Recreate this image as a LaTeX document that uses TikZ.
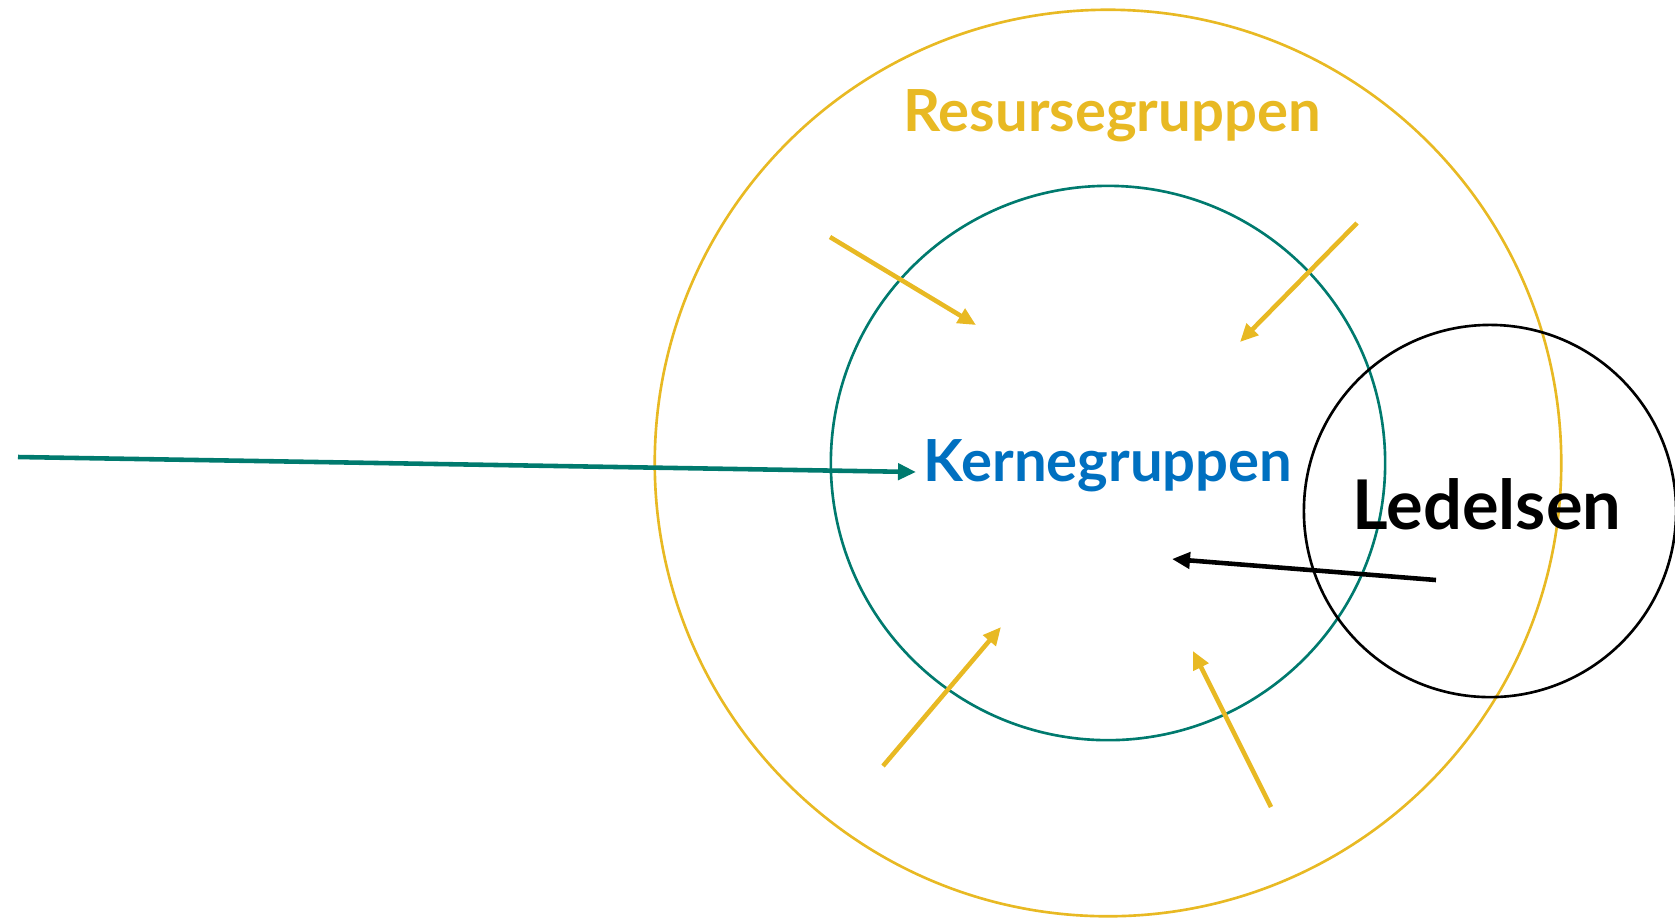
\documentclass[tikz,border=0pt]{standalone}
\usepackage{fontspec}
\setmainfont{Lato}
\usepackage{tikz}
\usetikzlibrary{arrows.meta, positioning}
\usepackage{xcolor}
\definecolor{resursgul}{RGB}{232,185,35}
\definecolor{kjernegronn}{RGB}{0,122,110}
\definecolor{kjerneblaa}{RGB}{0,112,192}
\tikzset{%
	every ring/.style={
		circle,
		draw,
		line width=0.75pt,
		inner sep=0pt
	},
	ring resurs/.style={draw=resursgul, minimum size=9.06cm},
	ring kjerne/.style={draw=kjernegronn, minimum size=5.54cm},
	ring ledelse/.style={draw=black, minimum size=3.72cm},
	gruppe/.style={
		font=\bfseries\fontsize{16.5}{18}\selectfont,
		anchor=base,
		inner sep=0pt
	},
	pil/.style={
		line width=1.3pt,
		-{Triangle[length=0.18cm, width=0.16cm]}
	},
}

\begin{document}
\begin{tikzpicture}[x=0.01cm, y=-0.01cm]
			\useasboundingbox (0,0) rectangle (1675,917);
			
			\foreach \m/\p in {resurs/{1108,463}, kjerne/{1108,463}, ledelse/{1490,511}}
			\node [every ring/.try, ring \m/.try] (ring-\m) at (\p) {};
			
			\node [gruppe, text=resursgul] (resurs) at (1112,131) {Resursegruppen};
			\node [gruppe, text=kjerneblaa] (kjerne) at (1108,481) {Kernegruppen};
			\node [gruppe, font=\bfseries\fontsize{19.5}{22}\selectfont] (ledelse) at (1487,529) {Ledelsen};
			
			\coordinate (inn-fra) at (18,457);
			\coordinate (inn-til) at (916,472);
			\draw [pil, kjernegronn] (inn-fra) -- (inn-til);
			
			\coordinate (led-fra) at (1436,580);
			\coordinate (led-til) at (1172,559);
			\draw [pil, black] (led-fra) -- (led-til);
			
			\foreach \xa/\ya/\xb/\yb [count=\i] in {830/237/976/325, 1357/223/1240/342, 883/766/1001/627, 1271/807/1193/651}
			{
			\coordinate (res-fra-\i) at (\xa,\ya);
			\coordinate (res-til-\i) at (\xb,\yb);
			\draw [pil, resursgul] (res-fra-\i) -- (res-til-\i);
			}
			
		\end{tikzpicture}
\end{document}
